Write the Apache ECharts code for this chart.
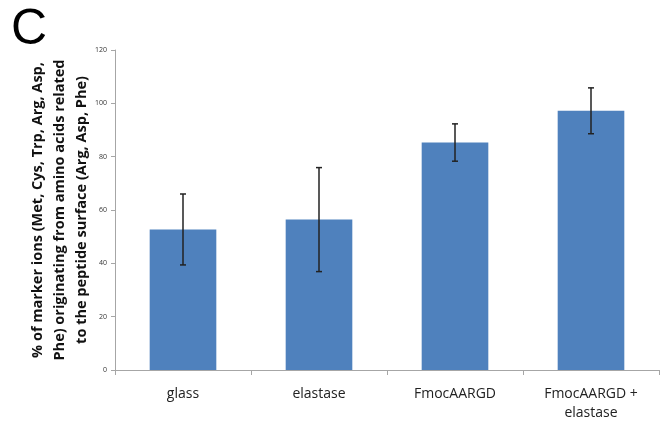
<!DOCTYPE html>
<html>
<head>
<meta charset="utf-8">
<script src="https://cdn.jsdelivr.net/npm/echarts@6/dist/echarts.min.js"></script>
<style>
  html, body { margin: 0; padding: 0; background: #fff; }
  #chart { width: 663px; height: 423px; }
</style>
</head>
<body>
<div id="chart"></div>
<script>
// Sample conditions and measured percentages
const categories = ['glass', 'elastase', 'FmocAARGD', 'FmocAARGD +\nelastase'];
const means = [52.7, 56.4, 85.3, 97.2];
const errors = [13.3, 19.5, 7.0, 8.6];
const yTicks = { min: 0, max: 120, interval: 20 };

const titleLines = [
  '% of marker ions (Met, Cys, Trp, Arg, Asp,',
  'Phe) originating from amino acids related',
  'to the peptide surface (Arg, Asp, Phe)'
];

const errorData = categories.map((c, i) => [i, means[i] - errors[i], means[i] + errors[i]]);

const chart = echarts.init(document.getElementById('chart'), null, { renderer: 'canvas' });

chart.setOption({
  animation: false,
  grid: { left: 115, right: 4, top: 50, bottom: 52 },
  xAxis: {
    type: 'category',
    data: categories,
    axisLine: { lineStyle: { color: '#a6a6a6', width: 1 } },
    axisTick: { show: true, length: 5, lineStyle: { color: '#a6a6a6' } },
    axisLabel: {
      color: '#222', fontSize: 14, fontFamily: 'Open Sans',
      margin: 15, lineHeight: 19
    }
  },
  yAxis: {
    type: 'value',
    min: yTicks.min, max: yTicks.max, interval: yTicks.interval,
    axisLine: { show: true, lineStyle: { color: '#a6a6a6', width: 1 } },
    axisTick: { show: true, length: 4, lineStyle: { color: '#a6a6a6' } },
    splitLine: { show: false },
    axisLabel: { color: '#333', fontSize: 7, fontFamily: 'Open Sans', margin: 8 }
  },
  graphic: [
    {
      type: 'text', left: 11, top: 5,
      style: { text: 'C', fontSize: 50, fontFamily: 'Liberation Sans', fill: '#000' }
    },
    {
      type: 'text', x: 60, y: 210, rotation: Math.PI / 2,
      style: {
        text: titleLines.join('\n'),
        fontSize: 14.5, fontWeight: 'bold', fontFamily: 'Open Sans',
        fill: '#111', align: 'center', verticalAlign: 'middle', lineHeight: 22
      }
    }
  ],
  series: [
    {
      type: 'bar',
      data: means,
      barWidth: '49%',
      itemStyle: { color: '#4f81bd' }
    },
    {
      type: 'custom',
      data: errorData,
      z: 10,
      renderItem: function (params, api) {
        const x = api.value(0);
        const lo = api.coord([x, api.value(1)]);
        const hi = api.coord([x, api.value(2)]);
        const cap = 3;
        const style = { stroke: '#222', lineWidth: 1.5 };
        return {
          type: 'group',
          children: [
            { type: 'line', shape: { x1: lo[0], y1: lo[1], x2: hi[0], y2: hi[1] }, style },
            { type: 'line', shape: { x1: lo[0] - cap, y1: lo[1], x2: lo[0] + cap, y2: lo[1] }, style },
            { type: 'line', shape: { x1: hi[0] - cap, y1: hi[1], x2: hi[0] + cap, y2: hi[1] }, style }
          ]
        };
      }
    }
  ]
});
</script>
</body>
</html>
